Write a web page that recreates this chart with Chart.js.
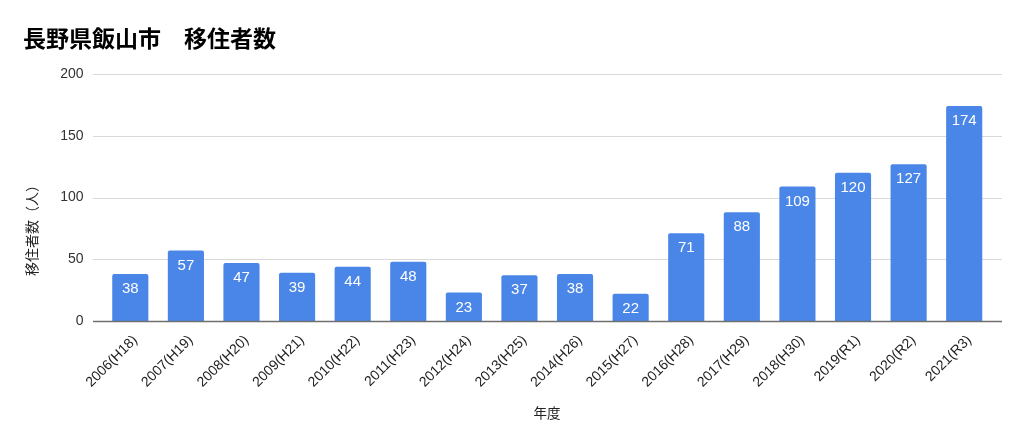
<!DOCTYPE html>
<html>
<head>
<meta charset="utf-8">
<script src="https://cdn.jsdelivr.net/npm/chart.js@4"></script>
<style>
  html, body { margin: 0; padding: 0; background: #fff; }
  #wrap { width: 1024px; height: 445px; position: relative; }
</style>
</head>
<body>
<div id="wrap"><canvas id="c" width="1024" height="445"></canvas></div>
<script>
const titleText = '長野県飯山市　移住者数';
const yAxisTitle = '移住者数（人）';
const xAxisTitle = '年度';
const categories = ['2006(H18)','2007(H19)','2008(H20)','2009(H21)','2010(H22)','2011(H23)','2012(H24)','2013(H25)','2014(H26)','2015(H27)','2016(H28)','2017(H29)','2018(H30)','2019(R1)','2020(R2)','2021(R3)'];
const migrants = [38,57,47,39,44,48,23,37,38,22,71,88,109,120,127,174];
const yTicks = [0,50,100,150,200];

const FONT = '"Liberation Sans", Arial, "Noto Sans CJK JP", sans-serif';
const CJK = '"Noto Sans CJK JP", "Liberation Sans", sans-serif';

const decor = {
  id: 'decor',
  beforeDatasetsDraw(chart) {
    const ctx = chart.ctx, y = chart.scales.y, a = chart.chartArea;
    ctx.save();
    y.ticks.forEach(t => {
      if (t.value === 0) return;
      const py = Math.round(y.getPixelForValue(t.value)) + 0.5;
      ctx.beginPath();
      ctx.strokeStyle = '#d9d9d9';
      ctx.lineWidth = 1;
      ctx.moveTo(a.left - 9.5, py);
      ctx.lineTo(a.right + 10, py);
      ctx.stroke();
    });
    ctx.restore();
  },
  afterDatasetsDraw(chart) {
    const ctx = chart.ctx;
    const meta = chart.getDatasetMeta(0);
    ctx.save();
    ctx.fillStyle = '#ffffff';
    ctx.font = '15px ' + FONT;
    ctx.textAlign = 'center';
    ctx.textBaseline = 'middle';
    meta.data.forEach((bar, i) => {
      ctx.fillText(String(chart.data.datasets[0].data[i]), bar.x, bar.y + 15);
    });
    // baseline on top of bars
    const y = chart.scales.y, a = chart.chartArea;
    const py = Math.round(y.getPixelForValue(0)) + 0.5;
    ctx.beginPath();
    ctx.strokeStyle = '#6f6f6f';
    ctx.lineWidth = 1.5;
    ctx.moveTo(a.left - 9.5, py);
    ctx.lineTo(a.right + 10, py);
    ctx.stroke();
    // title
    ctx.fillStyle = '#000';
    ctx.textAlign = 'left';
    ctx.textBaseline = 'alphabetic';
    ctx.font = 'bold 23px ' + CJK;
    ctx.fillText(titleText, 23, 47);
    // y axis title
    ctx.fillStyle = '#222';
    ctx.font = '14px ' + CJK;
    ctx.save();
    ctx.translate(32, 227);
    ctx.rotate(-Math.PI / 2);
    ctx.textAlign = 'center';
    ctx.textBaseline = 'middle';
    ctx.fillText(yAxisTitle, 0, 0);
    ctx.restore();
    // x axis title
    ctx.font = '13.5px ' + CJK;
    ctx.textAlign = 'center';
    ctx.textBaseline = 'middle';
    ctx.fillText(xAxisTitle, 547, 413);
    ctx.restore();
  }
};

new Chart(document.getElementById('c'), {
  type: 'bar',
  data: {
    labels: categories,
    datasets: [{
      data: migrants,
      backgroundColor: '#4a86e8',
      borderRadius: { topLeft: 2, topRight: 2 },
      borderSkipped: 'bottom',
      barPercentage: 0.65,
      categoryPercentage: 1.0
    }]
  },
  options: {
    responsive: false,
    animation: false,
    devicePixelRatio: 1,
    layout: { padding: { top: 74, right: 32, bottom: 0, left: 0 } },
    plugins: { legend: { display: false }, title: { display: false }, tooltip: { enabled: false } },
    scales: {
      x: {
        grid: { display: false, drawTicks: false },
        border: { display: false },
        ticks: {
          color: '#222',
          font: { family: FONT, size: 14 },
          minRotation: 45, maxRotation: 45,
          padding: 11,
          labelOffset: 5,
          autoSkip: false
        },
        afterFit(s) { s.height = 124; }
      },
      y: {
        min: 0, max: 200,
        afterBuildTicks(s) { s.ticks = yTicks.map(v => ({ value: v })); },
        grid: { display: false, drawTicks: false },
        border: { display: false },
        ticks: {
          color: '#333',
          font: { family: FONT, size: 14 },
          padding: 19
        },
        afterFit(s) { s.width = 102.5; }
      }
    }
  },
  plugins: [decor]
});
</script>
</body>
</html>
